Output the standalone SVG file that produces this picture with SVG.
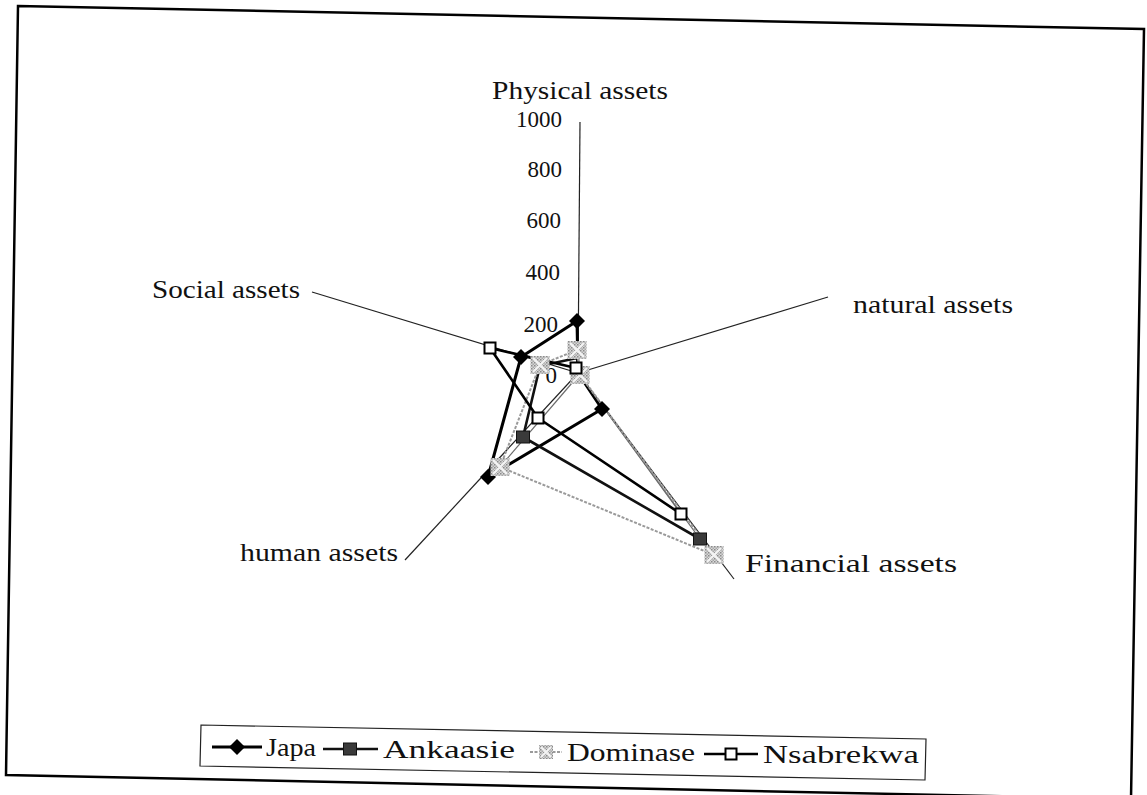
<svg xmlns="http://www.w3.org/2000/svg" width="1147" height="795" viewBox="0 0 1147 795">
<style>
text{font-family:"Liberation Serif","Times New Roman",serif;fill:#111}
.lbl{font-size:25px}
.num{font-size:23px;text-anchor:end}
.leg{font-size:26px}
.axis{stroke:#222;stroke-width:1.2;fill:none}
.thin{stroke:#6a6a6a;stroke-width:1.2;fill:none}
.japa{stroke:#000;stroke-width:3;fill:none;stroke-linejoin:round}
.ank{stroke:#111;stroke-width:2.6;fill:none;stroke-linejoin:round}
.dom{stroke:#9a9a9a;stroke-width:2;fill:none;stroke-dasharray:3 1.5}
.nsa{stroke:#000;stroke-width:2.6;fill:none;stroke-linejoin:round}
</style>
<defs>
<pattern id="dith" width="3" height="3" patternUnits="userSpaceOnUse">
<rect width="3" height="3" fill="#d8d8d8"/>
<rect width="1.5" height="1.5" fill="#8a8a8a"/>
<rect x="1.5" y="1.5" width="1.5" height="1.5" fill="#a8a8a8"/>
</pattern>
<polygon id="mJ" points="0,-8 8,0 0,8 -8,0" fill="#000"/>
<rect id="mA" x="-6.5" y="-6" width="13" height="12" fill="#3a3a3a" stroke="#111" stroke-width="1"/>
<g id="mD"><rect x="-9.5" y="-9" width="19" height="18" fill="url(#dith)"/><path d="M-7,-7 L7,7 M7,-7 L-7,7" stroke="#f4f4f4" stroke-width="2.2"/></g>
<g id="mDs"><rect x="-7" y="-7" width="14" height="14" fill="url(#dith)"/><path d="M-5,-5 L5,5 M5,-5 L-5,5" stroke="#f4f4f4" stroke-width="1.8"/></g>
<rect id="mN" x="-5.5" y="-5.5" width="11" height="11" fill="#fff" stroke="#000" stroke-width="2"/>
</defs>
<rect width="1147" height="795" fill="#fff"/>
<g id="frame"><polygon points="18,6 1144,29 1131,799 6,775" fill="none" stroke="#000" stroke-width="2.5"/></g>
<g id="axes">
<line class="axis" x1="578" y1="373" x2="580" y2="122"/>
<line class="axis" x1="578" y1="373" x2="828" y2="297"/>
<line class="axis" x1="578" y1="373" x2="734" y2="579"/>
<line class="axis" x1="578" y1="373" x2="405" y2="560"/>
<line class="axis" x1="578" y1="373" x2="312" y2="292"/>
</g>
<g id="axis-labels">
<text class="lbl" x="492" y="99" textLength="176" lengthAdjust="spacingAndGlyphs">Physical assets</text>
<text class="lbl" x="853" y="313" textLength="160" lengthAdjust="spacingAndGlyphs">natural assets</text>
<text class="lbl" x="745" y="572" textLength="212" lengthAdjust="spacingAndGlyphs">Financial assets</text>
<text class="lbl" x="240" y="561" textLength="158" lengthAdjust="spacingAndGlyphs">human assets</text>
<text class="lbl" x="152" y="298" textLength="148" lengthAdjust="spacingAndGlyphs">Social assets</text>
</g>
<g id="scale">
<text class="num" x="562" y="127">1000</text>
<text class="num" x="562" y="177">800</text>
<text class="num" x="561" y="228">600</text>
<text class="num" x="560" y="280">400</text>
<text class="num" x="558" y="332">200</text>
<text class="num" x="557" y="383">0</text>
</g>
<g id="connectors">
<polygon class="japa" points="577,321 578,373 602,409 488,477 521,357"/>
<line class="thin" x1="579" y1="374" x2="700" y2="539"/>
<line class="thin" x1="579" y1="374" x2="681" y2="514"/>
<polyline class="ank" points="700,539 523,437 540,366 577,358 580,373"/>
<polygon class="dom" points="577,350 580,375 714,555 500,467 540,365"/>
<line class="thin" x1="578" y1="376" x2="500" y2="467" stroke="#8a8a8a"/>
<polyline class="nsa" points="681,514 538,418 490,348 576,368 579,373"/>
</g>
<g id="series-japa">
<use href="#mJ" x="577" y="321"/><use href="#mJ" x="602" y="409"/><use href="#mJ" x="488" y="477"/><use href="#mJ" x="521" y="357"/>
</g>
<g id="series-ankaasie">
<use href="#mA" x="700" y="539"/><use href="#mA" x="523" y="437"/><use href="#mA" x="540" y="366"/>
</g>
<g id="series-dominase">
<use href="#mD" x="577" y="350"/><use href="#mD" x="580" y="375"/><use href="#mD" x="714" y="555"/><use href="#mD" x="500" y="467"/><use href="#mD" x="540" y="365"/>
</g>
<g id="series-nsabrekwa">
<use href="#mN" x="576" y="368"/><use href="#mN" x="681" y="514"/><use href="#mN" x="538" y="418"/><use href="#mN" x="490" y="348"/>
</g>
<g id="legend">
<polygon points="201,725 926,739 925,780 200,766" fill="none" stroke="#222" stroke-width="1.2"/>
<line x1="212" y1="747" x2="262" y2="747" stroke="#000" stroke-width="3"/><use href="#mJ" x="237" y="747"/>
<text class="leg" x="266" y="756" textLength="50" lengthAdjust="spacingAndGlyphs">Japa</text>
<line x1="323" y1="749" x2="378" y2="749" stroke="#111" stroke-width="2.5"/><use href="#mA" x="350" y="749"/>
<text class="leg" x="383" y="758" textLength="132" lengthAdjust="spacingAndGlyphs">Ankaasie</text>
<line x1="530" y1="752" x2="562" y2="752" stroke="#9a9a9a" stroke-width="2" stroke-dasharray="3 1.5"/><use href="#mDs" x="546" y="752"/>
<text class="leg" x="567" y="761" textLength="128" lengthAdjust="spacingAndGlyphs">Dominase</text>
<line x1="704" y1="754" x2="758" y2="754" stroke="#000" stroke-width="2.5"/><use href="#mN" x="731" y="754"/>
<text class="leg" x="763" y="763" textLength="156" lengthAdjust="spacingAndGlyphs">Nsabrekwa</text>
</g>
</svg>
